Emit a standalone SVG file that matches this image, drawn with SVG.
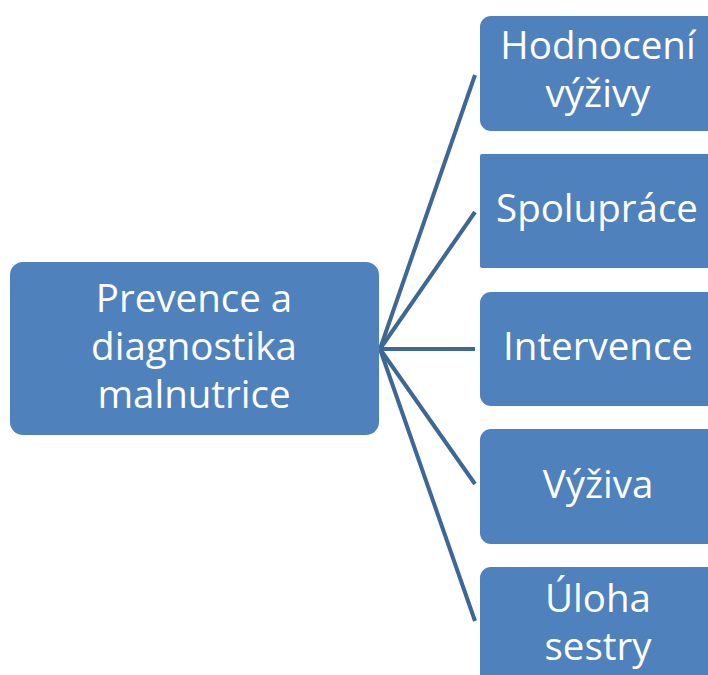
<svg xmlns="http://www.w3.org/2000/svg" width="708" height="675" viewBox="0 0 708 675">
<style>
.box{fill:#4f81bd;}
.t{font-family:"Open Sans","Liberation Sans",sans-serif;font-size:38.5px;fill:#ffffff;text-anchor:middle;}
.c{stroke:#3d6794;stroke-width:4;fill:none;}
</style>
<rect width="708" height="675" fill="#ffffff"/>
<g id="connectors">
<line class="c" x1="380" y1="349" x2="475" y2="75"/>
<line class="c" x1="380" y1="349" x2="475" y2="212"/>
<line class="c" x1="380" y1="349" x2="475" y2="349"/>
<line class="c" x1="380" y1="349" x2="475" y2="484"/>
<line class="c" x1="380" y1="349" x2="475" y2="621"/>
</g>
<g id="main">
<rect class="box" x="10" y="262" width="369" height="173" rx="13"/>
<text class="t" x="194" y="312">Prevence a</text>
<text class="t" x="194" y="360">diagnostika</text>
<text class="t" x="194" y="408">malnutrice</text>
</g>
<g id="n1">
<rect class="box" x="480" y="16" width="240" height="115" rx="11"/>
<text class="t" x="598" y="59">Hodnocení</text>
<text class="t" x="598" y="107">výživy</text>
</g>
<g id="n2">
<rect class="box" x="480" y="154" width="240" height="114" rx="2"/>
<text class="t" x="597" y="222">Spolupráce</text>
</g>
<g id="n3">
<rect class="box" x="480" y="292" width="240" height="114" rx="11"/>
<text class="t" x="598" y="360">Intervence</text>
</g>
<g id="n4">
<rect class="box" x="480" y="429" width="240" height="115" rx="11"/>
<text class="t" x="598" y="498">Výživa</text>
</g>
<g id="n5">
<rect class="box" x="480" y="567" width="240" height="125" rx="11"/>
<text class="t" x="598" y="612">Úloha</text>
<text class="t" x="598" y="660">sestry</text>
</g>
</svg>
